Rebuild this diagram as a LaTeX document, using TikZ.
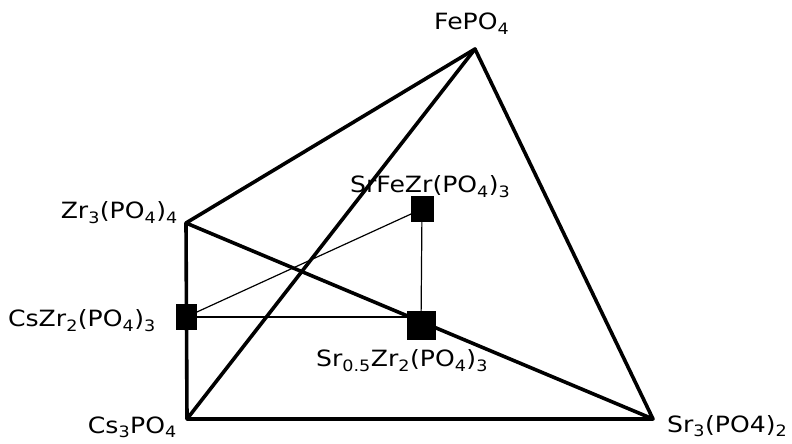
\documentclass[tikz,border=0pt]{standalone}
\usepackage{fontspec}
\setmainfont{DejaVu Sans}[FakeStretch=1.12]
\usepackage{tikz}
\usetikzlibrary{positioning, backgrounds}
\newcommand{\ix}[1]{\textsubscript{#1}}

\begin{document}
\begin{tikzpicture}[
    x=1bp, y=-1bp,
    edge/.style={line width=3.6bp, line cap=round, line join=round},
    tie/.style={line width=1.2bp},
    phase/.style={rectangle, fill=black, draw=none, inner sep=0pt},
    lab/.style={font=\fontsize{22.5}{27}\selectfont, inner sep=0pt}
  ]
  \useasboundingbox (0,0) rectangle (792,444);

  % Corners of the tetrahedron
  \coordinate (fe) at (475,49);
  \coordinate (zr) at (186,223);
  \coordinate (cs) at (187,419);
  \coordinate (sr) at (653,419);

  % Outer edges
  \draw[edge] (zr) -- (fe) -- (sr) -- (cs) -- (zr) -- (sr);
  \draw[edge] (fe) -- (cs);

  % Phases
  \node[phase, minimum width=21bp, minimum height=26bp] (cszr) at (186,317) {};
  \node[phase, minimum width=23bp, minimum height=26bp] (srfe) at (422,209) {};
  \node[phase, minimum width=29bp, minimum height=29bp] (srzr) at (421,326) {};

  % Tie lines
  \begin{scope}[on background layer]
    \draw[tie] (cszr.center) -- (srfe.center);
    \draw[tie] (cszr.center) -- (cszr.center -| srzr.center);
    \draw[tie] (srfe.center) -- (srzr.center);
  \end{scope}

  % Labels
  \node[lab, anchor=base west] (lfe) at (434,30) {FePO\ix{4}};
  \node[lab, anchor=base east] (lzr) at (178,219) {Zr\ix{3}(PO\ix{4})\ix{4}};
  \node[lab, anchor=base east] (lcszr) at (156,327) {CsZr\ix{2}(PO\ix{4})\ix{3}};
  \node[lab, anchor=base west] (lsrfe) at (350,193) {SrFeZr(PO\ix{4})\ix{3}};
  \node[lab, anchor=base west] (lsrzr) at (316,367) {Sr\ix{0.5}Zr\ix{2}(PO\ix{4})\ix{3}};
  \node[lab, anchor=base east] (lcs) at (177,433) {Cs\ix{3}PO\ix{4}};
  \node[lab, anchor=base west] (lsr) at (667,432) {Sr\ix{3}(PO4)\ix{2}};
\end{tikzpicture}
\end{document}
